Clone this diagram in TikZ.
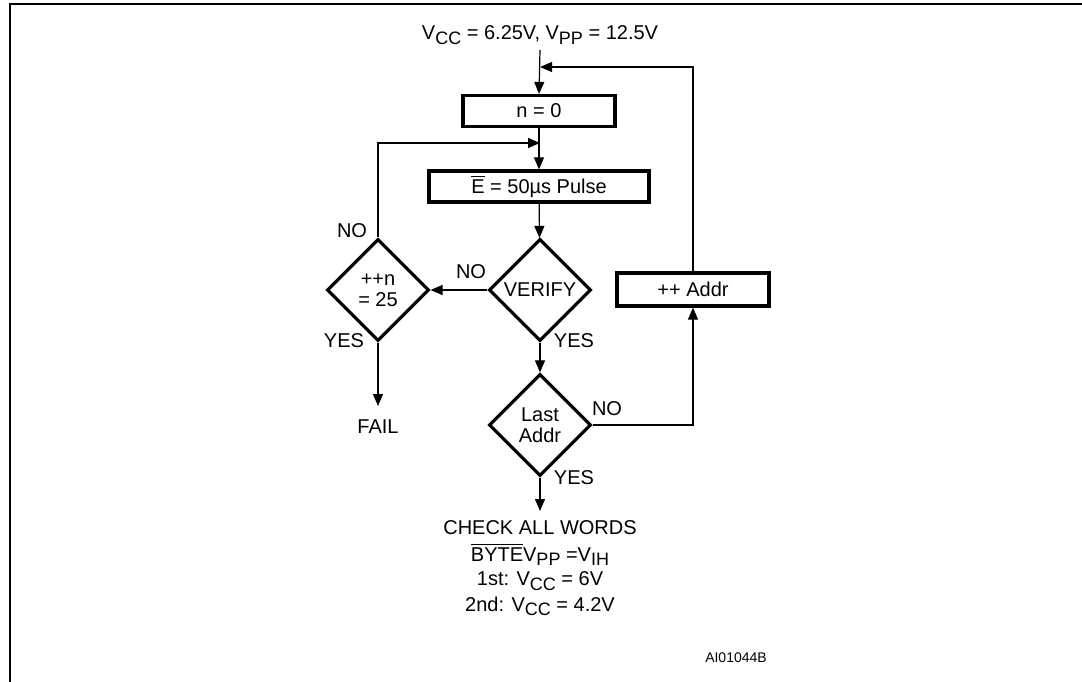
\documentclass[tikz,border=0pt]{standalone}
\usepackage{fontspec}
\setmainfont{Liberation Sans}
\usetikzlibrary{shapes.geometric,arrows.meta}
\newcommand{\sbs}[1]{\raisebox{-0.4ex}{\fontsize{18}{18}\selectfont #1}}
\newcommand{\barred}[1]{\leavevmode\vbox{\hrule height 1.2pt \kern 2.5pt \hbox{#1}}}
\begin{document}
\begin{tikzpicture}[x=1pt,y=-1pt,
	font=\fontsize{20}{23}\selectfont,
	box/.style={draw,line width=3.2pt,minimum width=152pt,minimum height=31pt,inner sep=0pt},
	dec/.style={draw,diamond,line width=3.2pt,minimum width=102pt,minimum height=102pt,inner sep=0pt,align=center},
	txt/.style={inner sep=0pt},
	flow/.style={line width=1.2pt,-{Triangle[length=12pt,width=10pt]}}]

	\useasboundingbox (0,0) rectangle (1082,682);
	\draw[line width=2pt] (10,682) -- (10,4) -- (1082,4);

	\node[txt] (vset) at (540,35) {V\sbs{CC} = 6.25V, V\sbs{PP} = 12.5V};
	\coordinate (start) at (540,50);
	\coordinate (j1) at (540,67);
	\coordinate (j2) at (540,143);

	\node[box] (n0) at (539,111) {n = 0};
	\node[box,minimum width=220pt] (pulse) at (539,186.5) {\barred{E} = 50µs Pulse};
	\node[dec] (verify) at (540,290) {VERIFY};
	\node[dec] (incn) at (378,290) {++n\\[-2pt]= 25};
	\node[dec] (last) at (540,425) {Last\\[-2pt]Addr};
	\node[box,minimum height=33pt] (addr) at (693,289.5) {++ Addr};

	\node[txt] (fail) at (378,427) {FAIL};
	\coordinate (failtip) at (378,406);
	\coordinate (done) at (540,511);

	\node[txt] (check) at (540,528) {CHECK ALL WORDS};
	\node[txt] (byte) at (540,555) {\barred{BYTE}V\sbs{PP} =V\sbs{IH}};
	\node[txt] (first) at (540,581) {1st: V\sbs{CC} = 6V};
	\node[txt] (second) at (540,606) {2nd: V\sbs{CC} = 4.2V};

	\node[txt] at (352,231) {NO};
	\node[txt] at (471,272) {NO};
	\node[txt] at (344,341) {YES};
	\node[txt] at (574,341) {YES};
	\node[txt] at (607,409) {NO};
	\node[txt] at (574,478) {YES};

	\node[txt,font=\fontsize{14}{16}\selectfont] (code) at (736,658) {AI01044B};

	\draw[flow] (start) -- (n0.north);
	\draw[flow] (n0) -- (pulse);
	\draw[flow] (pulse) -- (verify);
	\draw[flow] (verify) -- (incn);
	\draw[flow] (incn.north) |- (j2);
	\draw[flow] (incn.south) -- (failtip);
	\draw[flow] (verify) -- (last);
	\draw[flow] (last.east) -| (addr.south);
	\draw[flow] (addr.north) |- (j1);
	\draw[flow] (last.south) -- (done);
\end{tikzpicture}
\end{document}
